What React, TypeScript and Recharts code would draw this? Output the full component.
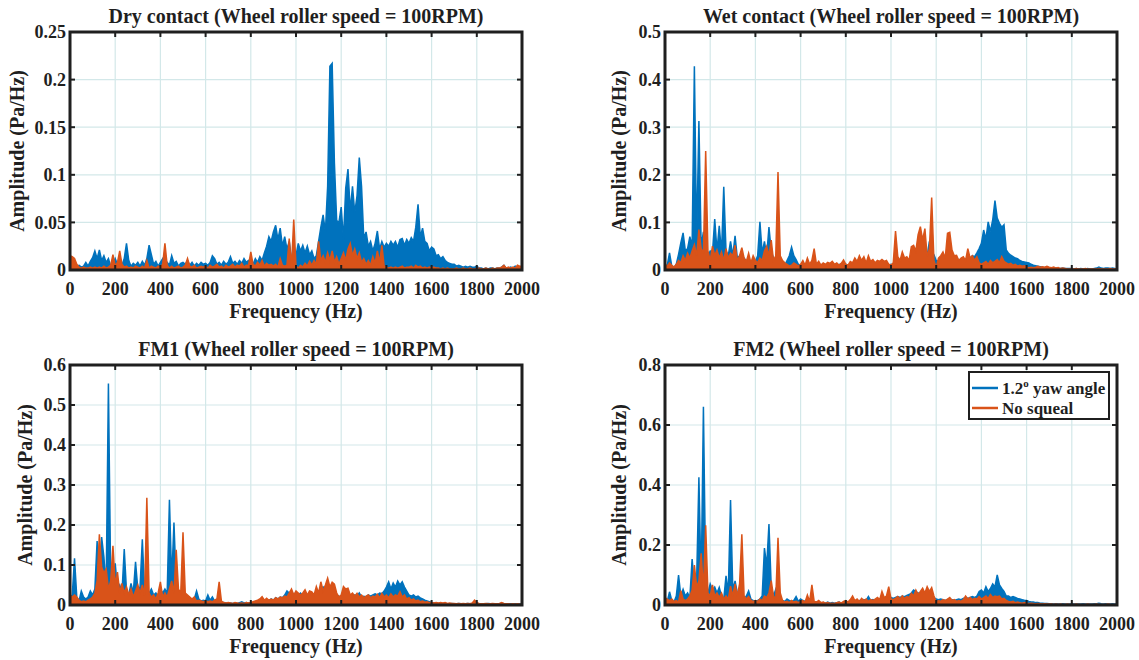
import React from "react";
import { AreaChart, Area, XAxis, YAxis, CartesianGrid, ReferenceArea } from "recharts";

// frequency bins (Hz), 10 Hz spacing
const FREQ = [
  0, 10, 20, 30, 40, 50, 60, 70, 80, 90,
  100, 110, 120, 130, 140, 150, 160, 170, 180, 190,
  200, 210, 220, 230, 240, 250, 260, 270, 280, 290,
  300, 310, 320, 330, 340, 350, 360, 370, 380, 390,
  400, 410, 420, 430, 440, 450, 460, 470, 480, 490,
  500, 510, 520, 530, 540, 550, 560, 570, 580, 590,
  600, 610, 620, 630, 640, 650, 660, 670, 680, 690,
  700, 710, 720, 730, 740, 750, 760, 770, 780, 790,
  800, 810, 820, 830, 840, 850, 860, 870, 880, 890,
  900, 910, 920, 930, 940, 950, 960, 970, 980, 990,
  1000, 1010, 1020, 1030, 1040, 1050, 1060, 1070, 1080, 1090,
  1100, 1110, 1120, 1130, 1140, 1150, 1160, 1170, 1180, 1190,
  1200, 1210, 1220, 1230, 1240, 1250, 1260, 1270, 1280, 1290,
  1300, 1310, 1320, 1330, 1340, 1350, 1360, 1370, 1380, 1390,
  1400, 1410, 1420, 1430, 1440, 1450, 1460, 1470, 1480, 1490,
  1500, 1510, 1520, 1530, 1540, 1550, 1560, 1570, 1580, 1590,
  1600, 1610, 1620, 1630, 1640, 1650, 1660, 1670, 1680, 1690,
  1700, 1710, 1720, 1730, 1740, 1750, 1760, 1770, 1780, 1790,
  1800, 1810, 1820, 1830, 1840, 1850, 1860, 1870, 1880, 1890,
  1900, 1910, 1920, 1930, 1940, 1950, 1960, 1970, 1980, 1990,
  2000,
];

// Dry contact
const DRY_SQUEAL = [
  0.003, 0.002, 0.004, 0.002, 0.005, 0.003, 0.004, 0.008, 0.004, 0.009,
  0.013, 0.020, 0.012, 0.021, 0.010, 0.015, 0.008, 0.012, 0.004, 0.006,
  0.012, 0.006, 0.009, 0.005, 0.012, 0.028, 0.010, 0.004, 0.007, 0.005,
  0.008, 0.004, 0.009, 0.005, 0.012, 0.026, 0.016, 0.006, 0.009, 0.004,
  0.008, 0.012, 0.006, 0.008, 0.005, 0.015, 0.007, 0.009, 0.004, 0.007,
  0.008, 0.006, 0.010, 0.005, 0.008, 0.004, 0.007, 0.005, 0.008, 0.006,
  0.007, 0.005, 0.008, 0.015, 0.012, 0.006, 0.008, 0.005, 0.009, 0.006,
  0.008, 0.014, 0.007, 0.009, 0.006, 0.010, 0.007, 0.012, 0.008, 0.010,
  0.009, 0.006, 0.012, 0.008, 0.014, 0.010, 0.018, 0.025, 0.035, 0.030,
  0.040, 0.047, 0.032, 0.044, 0.025, 0.035, 0.022, 0.030, 0.012, 0.018,
  0.015, 0.028, 0.020, 0.026, 0.018, 0.025, 0.016, 0.020, 0.012, 0.015,
  0.030, 0.045, 0.058, 0.040, 0.088, 0.214, 0.217, 0.112, 0.052, 0.050,
  0.066, 0.032, 0.086, 0.106, 0.062, 0.088, 0.060, 0.078, 0.118, 0.088,
  0.033, 0.040, 0.025, 0.030, 0.020, 0.028, 0.041, 0.022, 0.030, 0.024,
  0.028, 0.025, 0.030, 0.026, 0.030, 0.024, 0.032, 0.033, 0.026, 0.032,
  0.028, 0.034, 0.030, 0.045, 0.069, 0.035, 0.044, 0.030, 0.028, 0.020,
  0.024, 0.022, 0.015, 0.016, 0.012, 0.014, 0.010, 0.008, 0.007, 0.006,
  0.006, 0.004, 0.005, 0.004, 0.003, 0.004, 0.003, 0.004, 0.003, 0.003,
  0.004, 0.002, 0.002, 0.001, 0.002, 0.001, 0.002, 0.002, 0.001, 0.002,
  0.002, 0.003, 0.005, 0.002, 0.002, 0.003, 0.002, 0.004, 0.003, 0.002,
  0.003,
];
const DRY_NOSQ = [
  0.015, 0.014, 0.012, 0.006, 0.003, 0.002, 0.003, 0.002, 0.002, 0.003,
  0.002, 0.003, 0.002, 0.003, 0.002, 0.004, 0.002, 0.003, 0.005, 0.016,
  0.004, 0.008, 0.020, 0.006, 0.003, 0.004, 0.002, 0.003, 0.002, 0.004,
  0.003, 0.002, 0.004, 0.002, 0.010, 0.002, 0.004, 0.003, 0.002, 0.004,
  0.003, 0.006, 0.028, 0.005, 0.002, 0.004, 0.002, 0.003, 0.004, 0.002,
  0.003, 0.005, 0.012, 0.004, 0.003, 0.005, 0.002, 0.003, 0.004, 0.003,
  0.004, 0.002, 0.005, 0.003, 0.004, 0.006, 0.003, 0.004, 0.002, 0.005,
  0.003, 0.004, 0.006, 0.003, 0.005, 0.004, 0.007, 0.003, 0.005, 0.005,
  0.019, 0.006, 0.004, 0.008, 0.005, 0.010, 0.004, 0.007, 0.005, 0.006,
  0.004, 0.006, 0.003, 0.012, 0.005, 0.004, 0.005, 0.033, 0.003, 0.053,
  0.004, 0.002, 0.005, 0.003, 0.007, 0.004, 0.009, 0.005, 0.010, 0.006,
  0.030, 0.010, 0.015, 0.008, 0.018, 0.010, 0.020, 0.008, 0.014, 0.006,
  0.012, 0.018, 0.010, 0.022, 0.028, 0.015, 0.022, 0.012, 0.018, 0.008,
  0.012, 0.006, 0.010, 0.005, 0.014, 0.007, 0.020, 0.008, 0.026, 0.004,
  0.003, 0.002, 0.003, 0.002, 0.003, 0.002, 0.003, 0.004, 0.002, 0.003,
  0.003, 0.004, 0.002, 0.005, 0.003, 0.004, 0.002, 0.003, 0.002, 0.003,
  0.002, 0.003, 0.002, 0.002, 0.001, 0.002, 0.001, 0.002, 0.001, 0.001,
  0.001, 0.002, 0.001, 0.001, 0.002, 0.001, 0.001, 0.002, 0.001, 0.001,
  0.001, 0.002, 0.001, 0.001, 0.002, 0.001, 0.001, 0.002, 0.001, 0.002,
  0.002, 0.003, 0.005, 0.002, 0.003, 0.002, 0.003, 0.002, 0.005, 0.004,
  0.004,
];

// Wet contact
const WET_SQUEAL = [
  0.008, 0.010, 0.036, 0.008, 0.005, 0.012, 0.033, 0.057, 0.078, 0.040,
  0.045, 0.070, 0.050, 0.428, 0.060, 0.313, 0.050, 0.080, 0.040, 0.030,
  0.040, 0.035, 0.107, 0.040, 0.093, 0.035, 0.175, 0.040, 0.030, 0.060,
  0.030, 0.072, 0.025, 0.030, 0.020, 0.025, 0.018, 0.022, 0.015, 0.020,
  0.018, 0.030, 0.101, 0.035, 0.060, 0.030, 0.090, 0.040, 0.025, 0.020,
  0.030, 0.015, 0.012, 0.010, 0.020, 0.030, 0.048, 0.030, 0.022, 0.012,
  0.010, 0.012, 0.010, 0.015, 0.010, 0.012, 0.010, 0.012, 0.010, 0.011,
  0.012, 0.010, 0.013, 0.011, 0.012, 0.010, 0.012, 0.011, 0.013, 0.010,
  0.012, 0.010, 0.013, 0.011, 0.012, 0.010, 0.012, 0.011, 0.013, 0.010,
  0.012, 0.010, 0.013, 0.011, 0.012, 0.010, 0.012, 0.011, 0.013, 0.010,
  0.012, 0.010, 0.015, 0.012, 0.014, 0.012, 0.015, 0.013, 0.014, 0.012,
  0.015, 0.014, 0.016, 0.015, 0.018, 0.020, 0.030, 0.060, 0.040, 0.032,
  0.020, 0.018, 0.020, 0.018, 0.022, 0.020, 0.025, 0.022, 0.020, 0.022,
  0.022, 0.020, 0.024, 0.022, 0.026, 0.024, 0.030, 0.028, 0.036, 0.045,
  0.056, 0.084, 0.065, 0.101, 0.081, 0.105, 0.146, 0.109, 0.098, 0.090,
  0.095, 0.042, 0.035, 0.031, 0.028, 0.025, 0.024, 0.020, 0.018, 0.017,
  0.016, 0.015, 0.012, 0.010, 0.009, 0.008, 0.007, 0.006, 0.005, 0.005,
  0.004, 0.004, 0.003, 0.004, 0.003, 0.003, 0.004, 0.003, 0.003, 0.003,
  0.003, 0.002, 0.003, 0.002, 0.003, 0.002, 0.002, 0.003, 0.002, 0.002,
  0.003, 0.004, 0.006, 0.004, 0.003, 0.004, 0.004, 0.003, 0.004, 0.003,
  0.002,
];
const WET_NOSQ = [
  0.012, 0.008, 0.015, 0.010, 0.006, 0.012, 0.020, 0.015, 0.030, 0.020,
  0.035, 0.025, 0.040, 0.053, 0.030, 0.085, 0.045, 0.035, 0.250, 0.040,
  0.020, 0.050, 0.030, 0.042, 0.025, 0.038, 0.020, 0.045, 0.025, 0.035,
  0.030, 0.052, 0.020, 0.030, 0.047, 0.025, 0.018, 0.035, 0.015, 0.030,
  0.020, 0.015, 0.025, 0.020, 0.040, 0.050, 0.030, 0.063, 0.020, 0.030,
  0.206, 0.030, 0.020, 0.015, 0.012, 0.008, 0.010, 0.015, 0.012, 0.008,
  0.012, 0.020, 0.010, 0.025, 0.012, 0.020, 0.045, 0.012, 0.018, 0.010,
  0.015, 0.012, 0.016, 0.014, 0.018, 0.012, 0.015, 0.010, 0.014, 0.021,
  0.012, 0.010, 0.018, 0.015, 0.025, 0.018, 0.030, 0.020, 0.028, 0.015,
  0.030, 0.018, 0.022, 0.015, 0.020, 0.018, 0.022, 0.018, 0.020, 0.012,
  0.010, 0.015, 0.082, 0.028, 0.020, 0.038, 0.025, 0.028, 0.020, 0.049,
  0.052, 0.040, 0.074, 0.091, 0.063, 0.087, 0.028, 0.045, 0.152, 0.020,
  0.005, 0.025, 0.030, 0.038, 0.025, 0.077, 0.079, 0.042, 0.030, 0.031,
  0.020, 0.025, 0.028, 0.020, 0.045, 0.025, 0.030, 0.020, 0.028, 0.015,
  0.012, 0.015, 0.018, 0.012, 0.020, 0.015, 0.018, 0.022, 0.015, 0.028,
  0.018, 0.015, 0.012, 0.014, 0.010, 0.012, 0.008, 0.010, 0.008, 0.009,
  0.006, 0.005, 0.006, 0.005, 0.006, 0.008, 0.006, 0.007, 0.006, 0.008,
  0.006, 0.005, 0.006, 0.004, 0.005, 0.003, 0.004, 0.003, 0.002, 0.002,
  0.002, 0.002, 0.003, 0.002, 0.002, 0.002, 0.003, 0.002, 0.002, 0.002,
  0.002, 0.002, 0.003, 0.002, 0.002, 0.002, 0.002, 0.003, 0.002, 0.002,
  0.002,
];

// FM1
const FM1_SQUEAL = [
  0.020, 0.025, 0.117, 0.020, 0.010, 0.035, 0.020, 0.015, 0.020, 0.035,
  0.025, 0.040, 0.160, 0.060, 0.170, 0.120, 0.040, 0.554, 0.060, 0.050,
  0.104, 0.040, 0.050, 0.030, 0.140, 0.035, 0.025, 0.054, 0.030, 0.108,
  0.040, 0.045, 0.164, 0.035, 0.040, 0.030, 0.040, 0.025, 0.030, 0.020,
  0.040, 0.030, 0.040, 0.030, 0.263, 0.060, 0.206, 0.050, 0.030, 0.025,
  0.030, 0.020, 0.020, 0.015, 0.012, 0.015, 0.035, 0.015, 0.010, 0.012,
  0.010, 0.025, 0.012, 0.020, 0.010, 0.008, 0.006, 0.005, 0.006, 0.005,
  0.004, 0.005, 0.004, 0.005, 0.004, 0.006, 0.008, 0.005, 0.006, 0.005,
  0.006, 0.005, 0.008, 0.006, 0.010, 0.008, 0.010, 0.012, 0.010, 0.015,
  0.012, 0.018, 0.015, 0.020, 0.018, 0.025, 0.035, 0.030, 0.035, 0.025,
  0.030, 0.025, 0.030, 0.022, 0.028, 0.025, 0.030, 0.022, 0.028, 0.030,
  0.035, 0.040, 0.045, 0.035, 0.040, 0.035, 0.030, 0.028, 0.025, 0.022,
  0.020, 0.022, 0.025, 0.020, 0.022, 0.020, 0.025, 0.022, 0.030, 0.020,
  0.022, 0.020, 0.025, 0.022, 0.025, 0.028, 0.025, 0.030, 0.028, 0.035,
  0.045, 0.058, 0.040, 0.055, 0.045, 0.060, 0.050, 0.058, 0.045, 0.035,
  0.025, 0.022, 0.025, 0.020, 0.022, 0.018, 0.015, 0.012, 0.010, 0.008,
  0.006, 0.005, 0.005, 0.004, 0.004, 0.003, 0.004, 0.003, 0.003, 0.004,
  0.003, 0.003, 0.004, 0.003, 0.003, 0.003, 0.004, 0.003, 0.003, 0.003,
  0.004, 0.003, 0.003, 0.003, 0.003, 0.004, 0.003, 0.003, 0.003, 0.003,
  0.003, 0.004, 0.003, 0.003, 0.003, 0.003, 0.003, 0.003, 0.003, 0.003,
  0.003,
];
const FM1_NOSQ = [
  0.025, 0.020, 0.025, 0.020, 0.012, 0.008, 0.010, 0.008, 0.012, 0.015,
  0.020, 0.030, 0.060, 0.177, 0.095, 0.080, 0.090, 0.040, 0.060, 0.148,
  0.050, 0.082, 0.030, 0.054, 0.030, 0.045, 0.025, 0.040, 0.020, 0.035,
  0.050, 0.030, 0.050, 0.025, 0.268, 0.030, 0.020, 0.025, 0.015, 0.030,
  0.058, 0.020, 0.030, 0.020, 0.040, 0.060, 0.030, 0.138, 0.040, 0.030,
  0.182, 0.030, 0.025, 0.020, 0.015, 0.020, 0.010, 0.012, 0.010, 0.008,
  0.010, 0.008, 0.010, 0.008, 0.012, 0.015, 0.058, 0.010, 0.006, 0.005,
  0.006, 0.005, 0.004, 0.006, 0.005, 0.004, 0.005, 0.004, 0.006, 0.005,
  0.006, 0.008, 0.010, 0.012, 0.015, 0.021, 0.012, 0.017, 0.012, 0.015,
  0.012, 0.018, 0.015, 0.020, 0.018, 0.022, 0.020, 0.030, 0.040, 0.025,
  0.035, 0.030, 0.025, 0.030, 0.038, 0.025, 0.035, 0.033, 0.025, 0.046,
  0.030, 0.058, 0.035, 0.050, 0.067, 0.045, 0.057, 0.052, 0.030, 0.020,
  0.025, 0.046, 0.040, 0.042, 0.025, 0.030, 0.022, 0.029, 0.020, 0.025,
  0.018, 0.022, 0.025, 0.018, 0.022, 0.020, 0.027, 0.018, 0.029, 0.020,
  0.025, 0.018, 0.028, 0.020, 0.025, 0.022, 0.033, 0.020, 0.025, 0.015,
  0.018, 0.012, 0.015, 0.010, 0.012, 0.008, 0.010, 0.007, 0.008, 0.006,
  0.006, 0.005, 0.006, 0.005, 0.006, 0.005, 0.006, 0.004, 0.005, 0.004,
  0.004, 0.003, 0.004, 0.003, 0.004, 0.003, 0.004, 0.003, 0.005, 0.012,
  0.006, 0.004, 0.003, 0.003, 0.004, 0.003, 0.003, 0.004, 0.003, 0.003,
  0.004, 0.006, 0.004, 0.003, 0.003, 0.002, 0.003, 0.002, 0.003, 0.002,
  0.002,
];

// FM2
const FM2_SQUEAL = [
  0.015, 0.012, 0.044, 0.015, 0.010, 0.030, 0.100, 0.030, 0.052, 0.030,
  0.040, 0.025, 0.153, 0.060, 0.080, 0.426, 0.060, 0.661, 0.080, 0.040,
  0.070, 0.050, 0.060, 0.040, 0.059, 0.030, 0.020, 0.097, 0.040, 0.350,
  0.050, 0.080, 0.040, 0.030, 0.035, 0.020, 0.030, 0.047, 0.020, 0.015,
  0.012, 0.015, 0.020, 0.030, 0.190, 0.130, 0.270, 0.060, 0.030, 0.052,
  0.030, 0.020, 0.015, 0.012, 0.020, 0.015, 0.012, 0.015, 0.028, 0.012,
  0.020, 0.015, 0.012, 0.018, 0.010, 0.012, 0.008, 0.010, 0.008, 0.006,
  0.008, 0.006, 0.010, 0.006, 0.008, 0.006, 0.008, 0.010, 0.006, 0.008,
  0.010, 0.008, 0.012, 0.010, 0.015, 0.012, 0.015, 0.012, 0.018, 0.015,
  0.028, 0.015, 0.018, 0.015, 0.020, 0.018, 0.020, 0.025, 0.022, 0.030,
  0.025, 0.022, 0.025, 0.028, 0.025, 0.030, 0.028, 0.032, 0.035, 0.040,
  0.050, 0.045, 0.040, 0.038, 0.042, 0.040, 0.038, 0.035, 0.030, 0.025,
  0.020, 0.018, 0.020, 0.018, 0.015, 0.018, 0.020, 0.018, 0.015, 0.018,
  0.020, 0.018, 0.022, 0.025, 0.022, 0.025, 0.028, 0.025, 0.030, 0.045,
  0.050, 0.040, 0.061, 0.045, 0.055, 0.070, 0.060, 0.100, 0.067, 0.055,
  0.045, 0.030, 0.030, 0.025, 0.028, 0.025, 0.022, 0.020, 0.018, 0.016,
  0.015, 0.012, 0.010, 0.010, 0.008, 0.008, 0.006, 0.006, 0.005, 0.005,
  0.004, 0.004, 0.003, 0.004, 0.003, 0.003, 0.004, 0.003, 0.003, 0.003,
  0.004, 0.003, 0.003, 0.003, 0.003, 0.004, 0.003, 0.003, 0.003, 0.003,
  0.004, 0.004, 0.006, 0.004, 0.003, 0.004, 0.003, 0.003, 0.004, 0.003,
  0.003,
];
const FM2_NOSQ = [
  0.025, 0.020, 0.015, 0.020, 0.012, 0.015, 0.010, 0.048, 0.020, 0.015,
  0.020, 0.030, 0.050, 0.133, 0.060, 0.080, 0.172, 0.050, 0.266, 0.040,
  0.030, 0.067, 0.030, 0.040, 0.025, 0.040, 0.020, 0.030, 0.020, 0.063,
  0.030, 0.070, 0.030, 0.070, 0.236, 0.030, 0.020, 0.028, 0.015, 0.012,
  0.015, 0.012, 0.020, 0.015, 0.030, 0.025, 0.040, 0.081, 0.030, 0.020,
  0.224, 0.040, 0.015, 0.010, 0.012, 0.008, 0.015, 0.010, 0.012, 0.008,
  0.012, 0.015, 0.010, 0.033, 0.012, 0.067, 0.012, 0.010, 0.015, 0.008,
  0.010, 0.006, 0.008, 0.005, 0.006, 0.005, 0.008, 0.010, 0.006, 0.012,
  0.015, 0.010, 0.018, 0.030, 0.015, 0.020, 0.012, 0.022, 0.015, 0.020,
  0.012, 0.018, 0.015, 0.020, 0.025, 0.018, 0.045, 0.025, 0.030, 0.061,
  0.020, 0.018, 0.022, 0.028, 0.020, 0.030, 0.022, 0.028, 0.025, 0.039,
  0.030, 0.050, 0.035, 0.045, 0.056, 0.040, 0.061, 0.045, 0.058, 0.030,
  0.010, 0.015, 0.012, 0.018, 0.015, 0.020, 0.025, 0.015, 0.018, 0.012,
  0.015, 0.012, 0.018, 0.030, 0.020, 0.025, 0.018, 0.022, 0.020, 0.028,
  0.020, 0.025, 0.030, 0.022, 0.035, 0.025, 0.030, 0.028, 0.030, 0.020,
  0.022, 0.015, 0.012, 0.010, 0.012, 0.008, 0.010, 0.008, 0.006, 0.008,
  0.006, 0.005, 0.006, 0.005, 0.004, 0.005, 0.004, 0.003, 0.004, 0.003,
  0.003, 0.003, 0.002, 0.003, 0.002, 0.003, 0.002, 0.002, 0.003, 0.002,
  0.002, 0.002, 0.003, 0.002, 0.002, 0.002, 0.002, 0.003, 0.002, 0.002,
  0.002, 0.003, 0.002, 0.002, 0.002, 0.002, 0.003, 0.002, 0.002, 0.002,
  0.002,
];

const X_TICKS = [0, 200, 400, 600, 800, 1000, 1200, 1400, 1600, 1800, 2000];
const DRY_TICKS = [0, 0.05, 0.1, 0.15, 0.2, 0.25];
const WET_TICKS = [0, 0.1, 0.2, 0.3, 0.4, 0.5];
const FM1_TICKS = [0, 0.1, 0.2, 0.3, 0.4, 0.5, 0.6];
const FM2_TICKS = [0, 0.2, 0.4, 0.6, 0.8];

const LEGEND = ["1.2", "No squeal"];

const BLUE = "#0072BD";
const ORANGE = "#D95319";
const INK = "#1f1f1f";
const GRID = "#d3e8e9";
const FONT = '"Liberation Serif", "Times New Roman", serif';
const W = 1139;
const H = 660;

type PanelDef = {
  title: string;
  squeal: number[];
  noSqueal: number[];
  yMax: number;
  yTicks: number[];
  x0: number;
  y0: number;
  x1: number;
  y1: number;
  yLabelX: number;
};

const PANELS: PanelDef[] = [
  { title: "Dry contact (Wheel roller speed = 100RPM)", squeal: DRY_SQUEAL, noSqueal: DRY_NOSQ, yMax: 0.25, yTicks: DRY_TICKS, x0: 70, y0: 32, x1: 522, y1: 270, yLabelX: 24 },
  { title: "Wet contact (Wheel roller speed = 100RPM)", squeal: WET_SQUEAL, noSqueal: WET_NOSQ, yMax: 0.5, yTicks: WET_TICKS, x0: 665, y0: 32, x1: 1117, y1: 270, yLabelX: 626 },
  { title: "FM1 (Wheel roller speed = 100RPM)", squeal: FM1_SQUEAL, noSqueal: FM1_NOSQ, yMax: 0.6, yTicks: FM1_TICKS, x0: 70, y0: 365, x1: 522, y1: 605, yLabelX: 32 },
  { title: "FM2 (Wheel roller speed = 100RPM)", squeal: FM2_SQUEAL, noSqueal: FM2_NOSQ, yMax: 0.8, yTicks: FM2_TICKS, x0: 665, y0: 365, x1: 1117, y1: 605, yLabelX: 626 },
];

const tickStyle = { fill: INK, fontSize: 18, fontWeight: 700, fontFamily: FONT };
const tickLine = { stroke: INK, strokeWidth: 2 };

function Panel({ p }: { p: PanelDef }) {
  const data = FREQ.map((f, i) => ({ f, sq: p.squeal[i], ns: p.noSqueal[i] }));
  return (
    <div style={{ position: "absolute", left: 0, top: 0 }}>
      <AreaChart
        width={W}
        height={H}
        data={data}
        margin={{ top: p.y0 - 1, left: p.x0 - 60, right: W - p.x1 - 1, bottom: H - p.y1 - 30 }}
      >
        <CartesianGrid stroke={GRID} strokeWidth={1.2} />
        <XAxis
          dataKey="f"
          type="number"
          domain={[0, 2000]}
          ticks={X_TICKS}
          allowDataOverflow
          interval={0}
          height={30}
          tickSize={-5}
          tickMargin={17}
          tick={tickStyle}
          axisLine={false}
          tickLine={tickLine}
        />
        <XAxis
          xAxisId="top"
          orientation="top"
          dataKey="f"
          type="number"
          domain={[0, 2000]}
          ticks={X_TICKS}
          allowDataOverflow
          interval={0}
          height={1}
          tickSize={-5}
          tickFormatter={() => ""}
          axisLine={false}
          tickLine={tickLine}
        />
        <YAxis
          type="number"
          domain={[0, p.yMax]}
          ticks={p.yTicks}
          allowDataOverflow
          interval={0}
          width={60}
          tickSize={-5}
          tickMargin={9}
          tick={tickStyle}
          axisLine={false}
          tickLine={tickLine}
        />
        <YAxis
          yAxisId="right"
          orientation="right"
          type="number"
          domain={[0, p.yMax]}
          ticks={p.yTicks}
          allowDataOverflow
          interval={0}
          width={1}
          tickSize={-5}
          tickFormatter={() => ""}
          axisLine={false}
          tickLine={tickLine}
        />
        <Area type="linear" dataKey="sq" stroke={BLUE} fill={BLUE} fillOpacity={1} strokeWidth={1.5} dot={false} activeDot={false} isAnimationActive={false} />
        <Area type="linear" dataKey="ns" stroke={ORANGE} fill={ORANGE} fillOpacity={1} strokeWidth={1.5} dot={false} activeDot={false} isAnimationActive={false} />
        <ReferenceArea x1={0} x2={2000} y1={0} y2={p.yMax} fill="none" fillOpacity={0} stroke={INK} strokeWidth={3} ifOverflow="visible" />
      </AreaChart>
    </div>
  );
}

export default function App() {
  return (
    <div style={{ position: "absolute", left: 0, top: 0, width: W, height: H, background: "#fff", fontFamily: FONT }}>
      {PANELS.map((p) => (
        <Panel key={p.title} p={p} />
      ))}
      <svg width={W} height={H} style={{ position: "absolute", left: 0, top: 0, pointerEvents: "none" }}>
        <g fill={INK} fontFamily={FONT} fontWeight={700}>
          {PANELS.map((p) => {
            const cx = (p.x0 + p.x1) / 2;
            const cy = (p.y0 + p.y1) / 2;
            return (
              <g key={p.title}>
                <text x={cx} y={p.y0 - 9} textAnchor="middle" fontSize={20}>{p.title}</text>
                <text x={cx} y={p.y1 + 48} textAnchor="middle" fontSize={20}>Frequency (Hz)</text>
                <text transform={`translate(${p.yLabelX},${cy}) rotate(-90)`} textAnchor="middle" fontSize={20}>
                  Amplitude (Pa/Hz)
                </text>
              </g>
            );
          })}
          {/* legend of the FM2 panel */}
          <rect x={969} y={372} width={140} height={47} fill="#fff" stroke={INK} strokeWidth={2} />
          <line x1={972} y1={388} x2={998} y2={388} stroke={BLUE} strokeWidth={2.5} />
          <line x1={972} y1={408} x2={998} y2={408} stroke={ORANGE} strokeWidth={2.5} />
          <text x={1002} y={394} fontSize={17}>
            {LEGEND[0]}
            <tspan dy={-7} fontSize={11}>o</tspan>
            <tspan dy={7}> yaw angle</tspan>
          </text>
          <text x={1002} y={414} fontSize={17}>{LEGEND[1]}</text>
        </g>
      </svg>
    </div>
  );
}
